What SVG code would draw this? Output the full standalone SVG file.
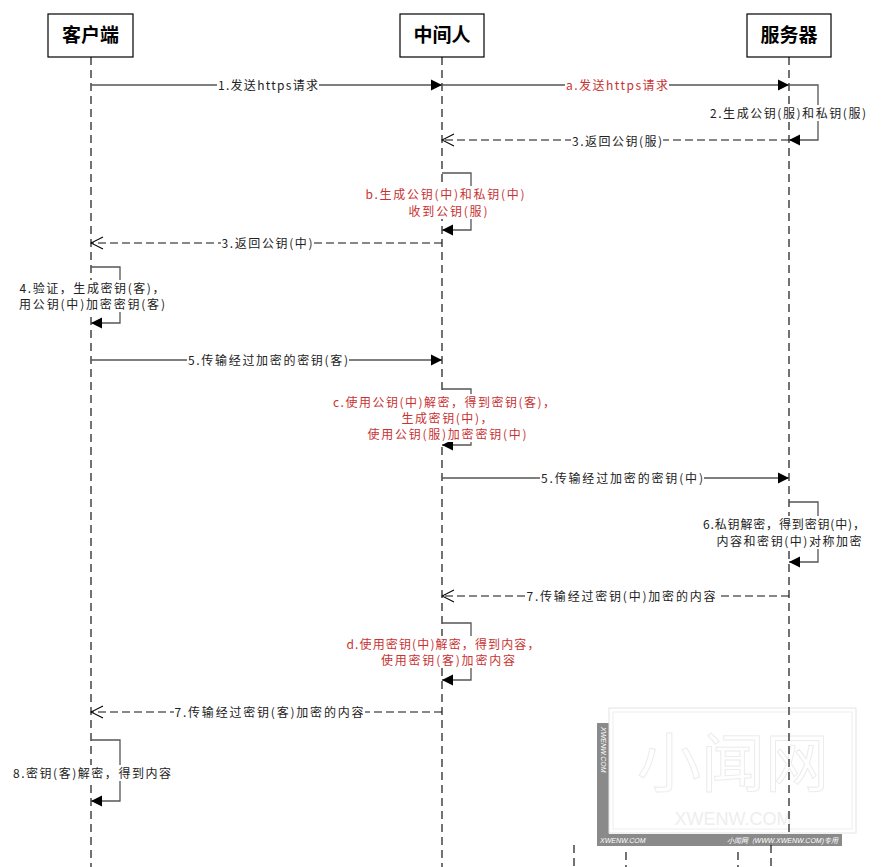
<svg xmlns="http://www.w3.org/2000/svg" width="882" height="867" viewBox="0 0 882 867">
<style>
.box{fill:#fff;stroke:#000;stroke-width:1.2}
.hdr{font-family:"Noto Sans CJK SC","Liberation Sans",sans-serif;font-size:19px;font-weight:bold;fill:#000;text-anchor:middle}
.life{stroke:#000;stroke-width:1.1;stroke-dasharray:8,5;fill:none}
.msg{stroke:#555;stroke-width:1.3;fill:none}
.ret{stroke:#111;stroke-width:1.2;fill:none;stroke-dasharray:8,4}
.lbl{font-family:"Noto Sans CJK SC","Liberation Sans",sans-serif;font-size:12px;fill:#222;text-anchor:middle}
.red{fill:#c83232}
.bg{fill:#fff}
.wm{font-family:"Liberation Sans",sans-serif;font-style:italic;fill:#fff}
</style>
<defs>
<marker id="fa" markerUnits="userSpaceOnUse" markerWidth="11" markerHeight="12" refX="11" refY="6" orient="auto">
<path d="M0,0.5 L11,6 L0,11.5 Z" fill="#000"/>
</marker>
<marker id="oa" markerUnits="userSpaceOnUse" markerWidth="14" markerHeight="14" refX="13" refY="7" orient="auto">
<path d="M1,1 L13,7 L1,13" fill="none" stroke="#000" stroke-width="1.1"/>
</marker>
</defs>
<rect width="882" height="867" fill="#fff"/>

<g id="watermark">
<rect x="597" y="723" width="12" height="123" fill="#8a8a8a"/>
<rect x="597" y="834" width="245" height="12" fill="#8a8a8a"/>
<rect x="609" y="708" width="247" height="125" fill="#fff" stroke="#e4e4e4" stroke-width="1"/>
<rect x="613" y="712" width="239" height="117" fill="none" stroke="#eeeeee" stroke-width="1"/>
<text x="733" y="786" font-family="Noto Sans CJK SC,sans-serif" font-size="64" text-anchor="middle" fill="none" stroke="#ececec" stroke-width="1">小闻网</text>
<text x="733" y="825" font-family="Liberation Sans,sans-serif" font-size="18" text-anchor="middle" fill="#eeeeee">XWENW.COM</text>
<text class="wm" x="600" y="843" font-size="7">XWENW.COM</text>
<text class="wm" x="838" y="843" font-size="7" text-anchor="end" font-family="Noto Sans CJK SC,sans-serif">小闻网（WWW.XWENW.COM)专用</text>
<text class="wm" x="0" y="0" font-size="7" transform="translate(601,727) rotate(90)">XWENW.COM</text>
<path class="life" d="M574,845 V867 M626,852 V867 M738,852 V867 M771,845 V867"/>
</g>

<g id="client">
<rect class="box" x="48" y="14" width="85" height="43"/>
<text class="hdr" x="90.5" y="42">客户端</text>
<line class="life" x1="91" y1="57" x2="91" y2="867"/>
</g>
<g id="middle">
<rect class="box" x="400" y="14" width="84" height="43"/>
<text class="hdr" x="442" y="42">中间人</text>
<line class="life" x1="442" y1="57" x2="442" y2="867"/>
</g>
<g id="server">
<rect class="box" x="747" y="14" width="84" height="43"/>
<text class="hdr" x="789" y="42">服务器</text>
<line class="life" x1="789" y1="57" x2="789" y2="833"/>
</g>

<g id="connectors">
<line class="msg" x1="91" y1="85" x2="442" y2="85" marker-end="url(#fa)"/>
<rect class="bg" x="217" y="77" width="102" height="16"/>
<text class="lbl" x="268" y="89.5" textLength="100" lengthAdjust="spacing">1.发送https请求</text>
<line class="msg" x1="442" y1="85" x2="789" y2="85" marker-end="url(#fa)"/>
<rect class="bg" x="565" y="77" width="104" height="16"/>
<text class="lbl red" x="617" y="89.5" textLength="102" lengthAdjust="spacing">a.发送https请求</text>
<path class="msg" d="M789,85 H818 V140 H789" marker-end="url(#fa)"/>
<rect class="bg" x="709" y="105" width="158" height="16"/>
<text class="lbl" x="788" y="117.5" textLength="156" lengthAdjust="spacing">2.生成公钥(服)和私钥(服)</text>
<line class="ret" x1="789" y1="140" x2="442" y2="140" marker-end="url(#oa)"/>
<rect class="bg" x="571" y="133" width="92" height="16"/>
<text class="lbl" x="617" y="145.5" textLength="90" lengthAdjust="spacing">3.返回公钥(服)</text>
<path class="msg" d="M442,173 H471 V230 H442" marker-end="url(#fa)"/>
<rect class="bg" x="365" y="186" width="161" height="33"/>
<text class="lbl red" x="445" y="198.5" textLength="159" lengthAdjust="spacing">b.生成公钥(中)和私钥(中)</text>
<text class="lbl red" x="448" y="215.5" textLength="79" lengthAdjust="spacing">收到公钥(服)</text>
<line class="ret" x1="442" y1="243" x2="91" y2="243" marker-end="url(#oa)"/>
<rect class="bg" x="221" y="235" width="93" height="16"/>
<text class="lbl" x="267" y="247.5" textLength="91" lengthAdjust="spacing">3.返回公钥(中)</text>
<path class="msg" d="M91,267 H120 V323 H91" marker-end="url(#fa)"/>
<rect class="bg" x="18" y="280" width="148" height="32"/>
<text class="lbl" x="92" y="292.5" textLength="145" lengthAdjust="spacing">4.验证，生成密钥(客)，</text>
<text class="lbl" x="92" y="308.5" textLength="146" lengthAdjust="spacing">用公钥(中)加密密钥(客)</text>
<line class="msg" x1="91" y1="360" x2="442" y2="360" marker-end="url(#fa)"/>
<rect class="bg" x="187" y="352" width="162" height="16"/>
<text class="lbl" x="268" y="364.5" textLength="160" lengthAdjust="spacing">5.传输经过加密的密钥(客)</text>
<path class="msg" d="M442,389 H471 V445 H442" marker-end="url(#fa)"/>
<rect class="bg" x="332" y="394" width="224" height="48"/>
<text class="lbl red" x="444" y="406.5" textLength="222" lengthAdjust="spacing">c.使用公钥(中)解密，得到密钥(客)，</text>
<text class="lbl red" x="447" y="422.5" textLength="91" lengthAdjust="spacing">生成密钥(中)，</text>
<text class="lbl red" x="447" y="438.5" textLength="159" lengthAdjust="spacing">使用公钥(服)加密密钥(中)</text>
<line class="msg" x1="442" y1="478" x2="789" y2="478" marker-end="url(#fa)"/>
<rect class="bg" x="540" y="470" width="164" height="16"/>
<text class="lbl" x="622" y="482.5" textLength="162" lengthAdjust="spacing">5.传输经过加密的密钥(中)</text>
<path class="msg" d="M789,502 H818 V562 H789" marker-end="url(#fa)"/>
<rect class="bg" x="702" y="516" width="165" height="33"/>
<text class="lbl" x="784" y="528.5" textLength="162" lengthAdjust="spacing">6.私钥解密，得到密钥(中)，</text>
<text class="lbl" x="789" y="545.5" textLength="145" lengthAdjust="spacing">内容和密钥(中)对称加密</text>
<line class="ret" x1="789" y1="596" x2="442" y2="596" marker-end="url(#oa)"/>
<rect class="bg" x="526" y="588" width="191" height="16"/>
<text class="lbl" x="621" y="600.5" textLength="189" lengthAdjust="spacing">7.传输经过密钥(中)加密的内容</text>
<path class="msg" d="M442,623 H471 V680 H442" marker-end="url(#fa)"/>
<rect class="bg" x="346" y="636" width="195" height="32"/>
<text class="lbl red" x="443" y="648.5" textLength="193" lengthAdjust="spacing">d.使用密钥(中)解密，得到内容，</text>
<text class="lbl red" x="448" y="664.5" textLength="134" lengthAdjust="spacing">使用密钥(客)加密内容</text>
<line class="ret" x1="442" y1="712" x2="91" y2="712" marker-end="url(#oa)"/>
<rect class="bg" x="174" y="704" width="191" height="16"/>
<text class="lbl" x="269" y="716.5" textLength="189" lengthAdjust="spacing">7.传输经过密钥(客)加密的内容</text>
<path class="msg" d="M91,740 H120 V801 H91" marker-end="url(#fa)"/>
<rect class="bg" x="12" y="765" width="160" height="16"/>
<text class="lbl" x="92" y="777.5" textLength="158" lengthAdjust="spacing">8.密钥(客)解密，得到内容</text>
</g>
</svg>
